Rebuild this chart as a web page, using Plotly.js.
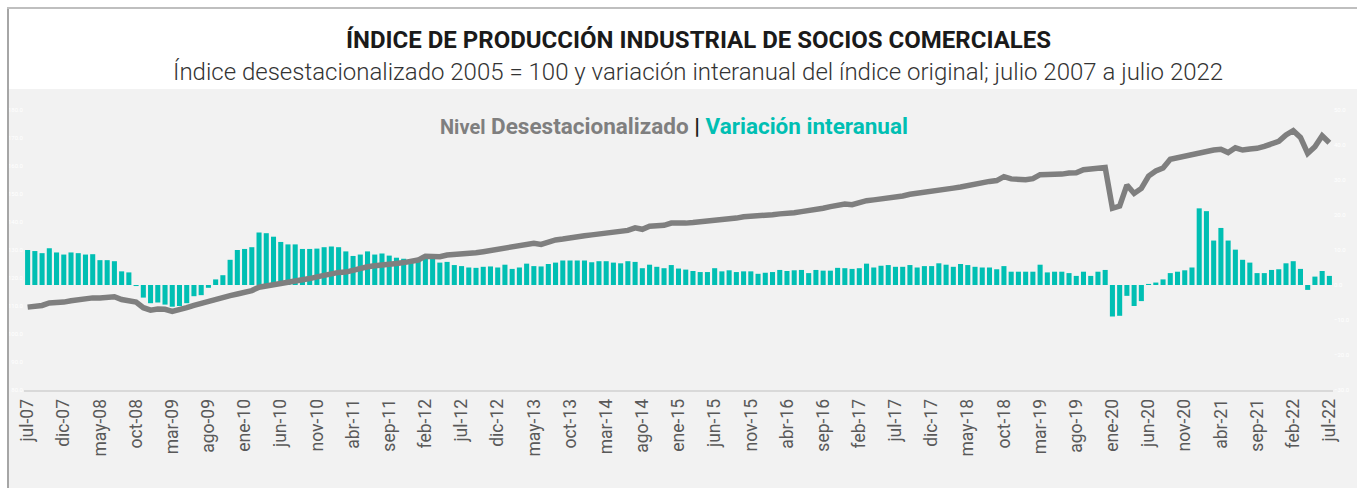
<!DOCTYPE html>
<html>
<head>
<meta charset="utf-8">
<script src="https://cdn.plot.ly/plotly-3.0.1.min.js"></script>
<style>
  html, body { margin: 0; padding: 0; background: #ffffff; }
  #chart { width: 1357px; height: 488px; }
</style>
</head>
<body>
<div id="chart"></div>
<script>
// ---- Data (monthly, jul-2007 to jul-2022) ----
const mesesAbrev = ['ene','feb','mar','abr','may','jun','jul','ago','sep','oct','nov','dic'];
const inicioAnio = 2007;
const inicioMes = 6; // julio (0-based)
const nMeses = 181;

// Índice desestacionalizado (2005 = 100)
const nivelDesestacionalizado = [
  109.6, 110.0, 110.2, 111.1, 111.2, 111.4, 111.9, 112.4, 112.5, 112.9,
  112.9, 113.0, 113.3, 112.3, 112.0, 111.4, 109.4, 108.5, 108.9, 108.8,
  108.1, 108.6, 109.4, 110.2, 111.0, 111.4, 112.6, 113.2, 113.7, 114.3,
  114.9, 115.5, 116.7, 117.1, 117.5, 118.0, 118.5, 118.9, 119.4, 119.8,
  120.4, 121.1, 121.8, 122.0, 122.1, 122.9, 123.5, 124.0, 124.4, 124.8,
  125.1, 125.2, 125.5, 126.1, 126.4, 127.8, 127.8, 127.6, 128.2, 128.3,
  128.6, 128.8, 129.0, 129.4, 129.9, 130.1, 130.8, 131.1, 131.7, 131.9,
  132.4, 132.0, 132.9, 133.6, 133.9, 134.4, 134.9, 135.1, 135.4, 135.7,
  136.1, 136.5, 137.0, 137.0, 137.9, 137.4, 138.5, 138.7, 138.8, 139.6,
  139.5, 139.6, 139.8, 140.0, 140.2, 140.6, 140.9, 141.1, 141.4, 141.9,
  142.0, 142.1, 142.4, 142.6, 142.9, 143.0, 143.3, 143.7, 144.0, 144.6,
  144.9, 145.5, 146.2, 146.4, 146.2, 147.0, 147.6, 147.9, 148.2, 148.6,
  148.8, 149.3, 149.9, 150.2, 150.8, 151.2, 151.4, 151.8, 152.1, 152.5,
  153.1, 153.5, 153.8, 154.5, 154.8, 156.2, 155.4, 155.1, 155.1, 155.5,
  156.9, 157.0, 157.0, 157.1, 157.5, 157.6, 158.7, 158.9, 159.2, 159.5,
  144.9, 145.7, 153.2, 150.2, 152.0, 156.4, 158.2, 159.3, 162.4, 163.0,
  163.6, 164.3, 164.9, 165.4, 165.7, 166.0, 164.8, 166.5, 165.7, 166.1,
  166.3, 167.0, 168.1, 168.8, 171.1, 172.6, 170.2, 164.5, 166.9, 170.8,
  168.3
];

// Variación interanual del índice original (%)
const variacionInteranual = [
  10.0, 9.7, 9.1, 10.5, 9.3, 8.7, 9.3, 9.1, 8.7, 8.8,
  7.1, 7.1, 6.8, 3.9, 3.6, -0.3, -3.6, -5.2, -5.0, -5.6,
  -6.2, -6.0, -5.2, -3.2, -2.9, -0.8, 1.6, 2.8, 7.2, 10.0,
  10.3, 10.8, 15.0, 14.8, 13.8, 12.3, 11.6, 11.6, 10.3, 10.3,
  10.4, 10.8, 11.0, 10.8, 9.6, 8.3, 8.7, 9.6, 8.7, 9.0,
  8.4, 7.8, 7.5, 7.3, 7.1, 7.8, 7.6, 6.4, 6.6, 5.7,
  5.4, 5.0, 4.9, 5.2, 5.3, 5.0, 5.8, 4.6, 5.0, 6.1,
  5.4, 5.3, 6.0, 6.4, 7.0, 7.0, 7.0, 7.0, 6.5, 6.8,
  6.8, 6.4, 6.2, 6.8, 6.6, 4.8, 5.8, 5.2, 4.8, 5.7,
  4.7, 4.4, 4.0, 3.7, 3.7, 4.8, 3.9, 4.2, 3.7, 3.9,
  3.9, 3.2, 3.5, 3.7, 4.3, 4.0, 4.2, 4.3, 3.4, 4.3,
  4.1, 4.1, 4.9, 4.8, 4.6, 4.8, 6.1, 5.0, 5.5, 5.7,
  5.2, 5.2, 5.7, 5.0, 5.4, 5.4, 6.2, 5.8, 5.2, 6.0,
  5.7, 5.2, 5.0, 5.0, 4.5, 5.4, 3.8, 3.8, 3.8, 3.8,
  5.8, 3.6, 3.8, 3.8, 3.4, 2.6, 3.8, 2.6, 3.8, 4.3,
  -9.0, -8.8, -3.1, -6.0, -4.6, 0.3, 0.7, 1.6, 3.4, 3.8,
  4.2, 5.0, 21.9, 21.1, 12.7, 16.3, 12.7, 10.1, 7.2, 6.4,
  3.4, 3.4, 4.3, 4.5, 6.2, 6.8, 4.6, -1.4, 2.4, 4.0,
  2.6
];

// Category labels "jul-07" ... "jul-22"
const meses = [];
for (let k = 0; k < nMeses; k++) {
  const m = (inicioMes + k) % 12;
  const a = inicioAnio + Math.floor((inicioMes + k) / 12);
  meses.push(mesesAbrev[m] + '-' + String(a % 100).padStart(2, '0'));
}
const etiquetasEje = meses.filter((_, k) => k % 5 === 0);

// ---- Layout geometry ----
const W = 1357, H = 488, mL = 24, mR = 24, mT = 110, mB = 98;
const pw = W - mL - mR, ph = H - mT - mB;
const xp = px => (px - mL) / pw;
const yp = py => (H - mB - py) / ph;

const teal = '#00BFB3';
const gris = '#7F7F7F';

const traces = [
  {
    type: 'bar',
    x: meses,
    y: variacionInteranual,
    yaxis: 'y',
    marker: { color: teal, line: { width: 0 } },
    hoverinfo: 'x+y',
    name: 'Variación interanual'
  },
  {
    type: 'scatter',
    mode: 'lines',
    x: meses,
    y: nivelDesestacionalizado,
    yaxis: 'y2',
    line: { color: gris, width: 5.5 },
    name: 'Nivel desestacionalizado'
  }
];

const layout = {
  width: W, height: H,
  autosize: false,
  margin: { l: mL, r: mR, t: mT, b: mB, pad: 0 },
  paper_bgcolor: '#ffffff',
  plot_bgcolor: 'rgba(0,0,0,0)',
  showlegend: false,
  bargap: 0.3,
  font: { family: 'Roboto, sans-serif', color: '#595959' },
  xaxis: {
    type: 'category',
    range: [-0.5, nMeses - 0.5],
    tickmode: 'array',
    tickvals: etiquetasEje,
    ticktext: etiquetasEje,
    tickangle: -90,
    tickfont: { family: 'Roboto, sans-serif', size: 17.5, color: '#595959' },
    showline: true,
    linecolor: '#d9d9d9',
    linewidth: 2,
    ticks: '',
    showgrid: false,
    zeroline: false,
    fixedrange: true
  },
  yaxis: {
    side: 'right',
    range: [-30, 50],
    dtick: 10,
    showgrid: false,
    zeroline: false,
    showline: false,
    ticks: '',
    tickformat: '.1f',
    tickfont: { size: 6, color: '#ffffff' },
    fixedrange: true
  },
  yaxis2: {
    overlaying: 'y',
    side: 'left',
    range: [80, 180],
    dtick: 10,
    showgrid: false,
    zeroline: false,
    showline: false,
    ticks: '',
    tickformat: '.1f',
    tickfont: { size: 6, color: '#ffffff' },
    fixedrange: true
  },
  shapes: [
    { type: 'rect', xref: 'paper', yref: 'paper', layer: 'below',
      x0: xp(9), x1: xp(1400), y0: yp(89), y1: yp(520),
      fillcolor: '#f2f2f2', line: { width: 0 } },
    { type: 'line', xref: 'paper', yref: 'paper',
      x0: xp(8), x1: xp(8), y0: yp(7), y1: yp(520),
      line: { color: '#a6a6a6', width: 2 } },
    { type: 'line', xref: 'paper', yref: 'paper',
      x0: xp(7), x1: xp(1400), y0: yp(8), y1: yp(8),
      line: { color: '#bfbfbf', width: 2 } }
  ],
  annotations: [
    { xref: 'paper', yref: 'paper', x: xp(698), y: yp(40),
      xanchor: 'center', yanchor: 'middle', showarrow: false,
      text: '<b>ÍNDICE DE PRODUCCIÓN INDUSTRIAL DE SOCIOS COMERCIALES</b>',
      font: { family: 'Roboto, sans-serif', size: 24, color: '#1a1a1a' } },
    { xref: 'paper', yref: 'paper', x: xp(698), y: yp(72),
      xanchor: 'center', yanchor: 'middle', showarrow: false,
      text: 'Índice desestacionalizado 2005 = 100 y variación interanual del índice original; julio 2007 a julio 2022',
      font: { family: 'Roboto, sans-serif', size: 24, color: '#333333', weight: 300 } },
    { xref: 'paper', yref: 'paper', x: xp(674), y: yp(126),
      xanchor: 'center', yanchor: 'middle', showarrow: false,
      text: '<b><span style="font-size:20px;color:#7f7f7f">Nivel</span> <span style="color:#7f7f7f">Desestacionalizado</span> <span style="color:#1a1a1a">|</span> <span style="color:' + teal + '">Variación interanual</span></b>',
      font: { family: 'Roboto, sans-serif', size: 22.5, color: '#7f7f7f' } }
  ]
};

Plotly.newPlot('chart', traces, layout, { displayModeBar: false, staticPlot: true });
</script>
</body>
</html>
